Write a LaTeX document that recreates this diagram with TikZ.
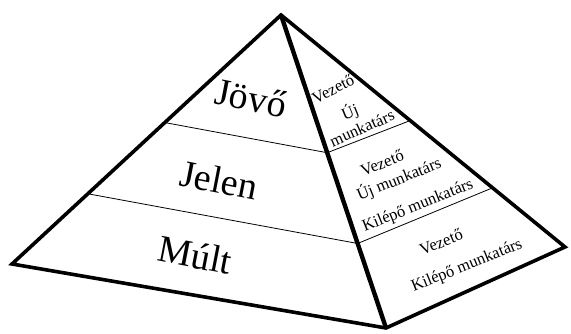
\documentclass[tikz,border=0pt]{standalone}
\usepackage{fontspec}
\setmainfont{Liberation Serif}
\usetikzlibrary{calc}
\begin{document}
\begin{tikzpicture}[
  edge/.style={line width=3.6pt,line join=miter},
  ridge/.style={line width=4.4pt},
  band/.style={line width=0.8pt},
  big/.style={inner sep=0pt,font=\fontsize{38}{40}\selectfont},
  small/.style={inner sep=0pt,font=\fontsize{16.5}{18}\selectfont}]
\useasboundingbox (0pt,0pt) rectangle (571pt,334pt);
\coordinate (A) at (281pt,319pt);
\coordinate (L) at (12pt,70pt);
\coordinate (B) at (386pt,6pt);
\coordinate (R) at (565pt,87pt);
% band points
\coordinate (l1) at ($(A)!0.432!(L)$);
\coordinate (m1) at ($(A)!0.44!(B)$);
\coordinate (r1) at ($(A)!0.455!(R)$);
\coordinate (l2) at ($(A)!0.718!(L)$);
\coordinate (m2) at ($(A)!0.73!(B)$);
\coordinate (r2) at ($(A)!0.745!(R)$);
\draw[band] (l1) -- (m1) -- (r1);
\draw[band] (l2) -- (m2) -- (r2);
\draw[edge] (A) -- (L) -- (B) -- (R) -- cycle;
\draw[ridge] (A) -- (B);
% left face labels
\node[big,rotate=-11] (jovo) at (251pt,236pt) {Jövő};
\node[big,rotate=-11] (jelen) at (219pt,154pt) {Jelen};
\node[big,rotate=-11] (mult) at (195pt,79pt) {Múlt};
% right face labels
\node[small,rotate=27] (v1) at (333pt,245pt) {Vezető};
\node[small,rotate=22] (u1) at (350pt,222pt) {Új};
\node[small,rotate=24] (mk1) at (362pt,206pt) {munkatárs};
\node[small,rotate=22] (v2) at (382pt,171pt) {Vezető};
\node[small,rotate=22] (u2) at (399pt,155pt) {Új munkatárs};
\node[small,rotate=22] (k2) at (418pt,128pt) {Kilépő munkatárs};
\node[small,rotate=22] (v3) at (441pt,92pt) {Vezető};
\node[small,rotate=22] (k3) at (467pt,68pt) {Kilépő munkatárs};
\end{tikzpicture}
\end{document}
